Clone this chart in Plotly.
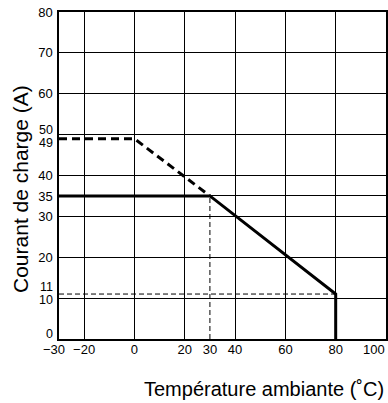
import plotly.graph_objects as go

# Data
rated_x = [-30, 30, 80, 80]
rated_y = [35, 35, 11, 0]
peak_x = [-30, 0, 30]
peak_y = [49, 49, 35]
guide_v_x = [30, 30]
guide_v_y = [0, 35]
guide_h_x = [-30, 80]
guide_h_y = [11, 11]

x_ticks = [-30, -20, 0, 20, 30, 40, 60, 80, 100]
y_ticks = [0, 10, 11, 20, 30, 35, 40, 49, 50, 60, 70, 80]
# labels that are crowded and nudged off their tick (value, shift in px)
y_nudged = {0: 5, 10: -2, 11: 7, 49: -4, 50: 5}
x_nudged = {-30: (-5, "center"), 100: (1, "right")}
x_grid = [-20, 0, 20, 40, 60, 80]
y_grid = [10, 20, 30, 35, 40, 50, 60, 70]


def fmt(v):
    return str(v).replace("-", "\u2212")


fig = go.Figure()
fig.add_trace(go.Scatter(x=guide_v_x, y=guide_v_y, mode="lines",
                         line=dict(color="black", width=1, dash="5px,3px"), cliponaxis=False))
fig.add_trace(go.Scatter(x=guide_h_x, y=guide_h_y, mode="lines",
                         line=dict(color="black", width=1, dash="5px,3px"), cliponaxis=False))
fig.add_trace(go.Scatter(x=peak_x, y=peak_y, mode="lines",
                         line=dict(color="black", width=3, dash="8px,5px"), cliponaxis=False))
fig.add_trace(go.Scatter(x=rated_x, y=rated_y, mode="lines",
                         line=dict(color="black", width=3), cliponaxis=False))

font = "Liberation Sans, Arial, Helvetica, sans-serif"
annotations = [
    dict(text="Température ambiante (˚C)", xref="paper", yref="paper",
         x=1.0, y=-0.153, xanchor="right", yanchor="middle", showarrow=False,
         font=dict(size=20, family=font)),
    dict(text="Courant de charge (A)", xref="paper", yref="paper",
         x=-0.116, y=0.459, xanchor="center", yanchor="middle", textangle=-90,
         showarrow=False, font=dict(size=21, family=font)),
]
for v, dy in y_nudged.items():
    annotations.append(dict(text=str(v), xref="paper", yref="y", x=0, y=v,
                            xanchor="right", yanchor="middle", xshift=-4, yshift=dy,
                            showarrow=False, font=dict(size=12.5, family=font)))
for v, (dx, anchor) in x_nudged.items():
    annotations.append(dict(text=fmt(v), xref="x", yref="paper", x=v, y=0,
                            xanchor=anchor, yanchor="top", xshift=dx, yshift=-1,
                            showarrow=False, font=dict(size=13, family=font)))

fig.update_layout(
    width=388, height=403,
    margin=dict(l=59, r=2, t=12, b=64, autoexpand=False),
    paper_bgcolor="white", plot_bgcolor="white",
    showlegend=False,
    font=dict(family=font, color="black", size=13),
    xaxis=dict(range=[-30, 100], tickvals=x_ticks,
               ticktext=["" if v in x_nudged else fmt(v) for v in x_ticks],
               showgrid=False, zeroline=False, showline=True, linecolor="black", linewidth=1.5,
               mirror=True, ticks="", ticklabelstandoff=-2, ticklabeloverflow="allow",
               automargin=False,
               minor=dict(tickvals=x_grid, showgrid=True, gridcolor="black", gridwidth=1)),
    yaxis=dict(range=[0, 80], tickvals=y_ticks,
               ticktext=["" if v in y_nudged else str(v) for v in y_ticks],
               showgrid=False, zeroline=False, showline=True, linecolor="black", linewidth=1.5,
               mirror=True, ticks="", ticklabelstandoff=2, automargin=False,
               minor=dict(tickvals=y_grid, showgrid=True, gridcolor="black", gridwidth=1)),
    annotations=annotations,
)
fig.write_html("out.html")
